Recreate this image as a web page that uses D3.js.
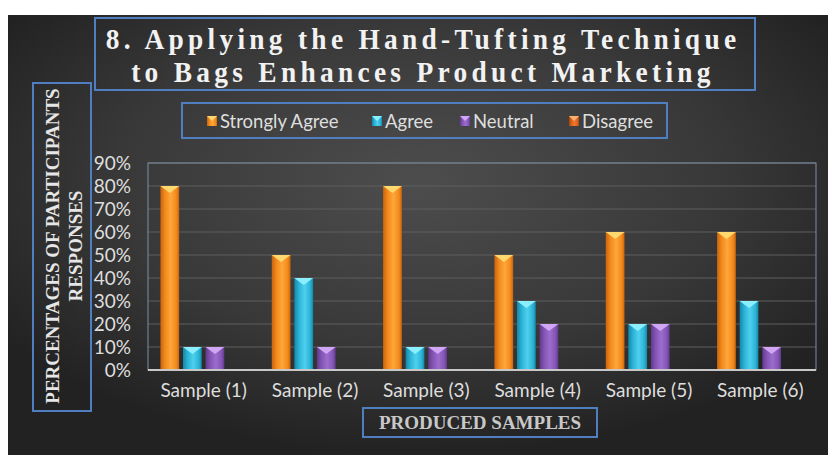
<!DOCTYPE html>
<html><head><meta charset="utf-8">
<script src="https://cdn.jsdelivr.net/npm/d3@7/dist/d3.min.js"></script>
<style>html,body{margin:0;padding:0;background:#fff;}svg{display:block;}</style>
</head><body><svg id="c" width="828" height="455"></svg>
<script>
const categories = ["Sample (1)","Sample (2)","Sample (3)","Sample (4)","Sample (5)","Sample (6)"];
const seriesNames = ["Strongly Agree","Agree","Neutral","Disagree"];
const stronglyAgree = [80,50,80,50,60,60];
const agree = [10,40,10,30,20,30];
const neutral = [10,10,10,20,20,10];
const disagree = [0,0,0,0,0,0];
const yTicks = [0,10,20,30,40,50,60,70,80,90];
const titleLines = ["8. Applying the Hand-Tufting Technique","to Bags Enhances Product Marketing"];
const yTitleLines = ["PERCENTAGES OF PARTICIPANTS","RESPONSES"];
const xTitle = "PRODUCED SAMPLES";

const seriesValues = [stronglyAgree, agree, neutral, disagree];
const colors = [
  {base:"#f28a1c", dark:"#c9640e", light:"#ffa63a", top:"#ffd870"},
  {base:"#2bb3d6", dark:"#1487a8", light:"#4fd0ee", top:"#8cefff"},
  {base:"#8455b5", dark:"#5f3a8c", light:"#9c6dcc", top:"#d0a6f5"},
  {base:"#d9621c", dark:"#a8440c", light:"#ef7a2e", top:"#ffb070"}
];
const labelFont = "Lato, 'Open Sans', sans-serif";
const serif = "'Liberation Serif', 'DejaVu Serif', serif";
const svg = d3.select("#c");
const defs = svg.append("defs");

// background
const bg = defs.append("radialGradient").attr("id","bg").attr("cx","0.5").attr("cy","0.38").attr("r","0.62");
bg.append("stop").attr("offset","0").attr("stop-color","#4d4d4d");
bg.append("stop").attr("offset","0.6").attr("stop-color","#383838");
bg.append("stop").attr("offset","1").attr("stop-color","#222222");
svg.append("rect").attr("x",0).attr("y",0).attr("width",828).attr("height",455).attr("fill","#fff");
svg.append("rect").attr("x",8).attr("y",15).attr("width",820).attr("height",440).attr("fill","url(#bg)");

// bar gradients
colors.forEach((c,i)=>{
  const g = defs.append("linearGradient").attr("id","bar"+i).attr("x1","0").attr("x2","1").attr("y1","0").attr("y2","0");
  g.append("stop").attr("offset","0").attr("stop-color",c.dark);
  g.append("stop").attr("offset","0.25").attr("stop-color",c.base);
  g.append("stop").attr("offset","0.55").attr("stop-color",c.light);
  g.append("stop").attr("offset","0.85").attr("stop-color",c.base);
  g.append("stop").attr("offset","1").attr("stop-color",c.dark);
});

// plot area
const plot = {left:148, right:816, top:163, bottom:370};
const x0 = d3.scaleBand().domain(categories).range([plot.left, plot.right]).paddingInner(0).paddingOuter(0);
const x1 = d3.scaleBand().domain(seriesNames).range([0, x0.bandwidth()]).paddingInner(0.17).paddingOuter(0.55);
const y = d3.scaleLinear().domain([0,90]).range([plot.bottom, plot.top]);

// gridlines
svg.append("g").selectAll("line").data(yTicks.filter(d=>d>0)).join("line")
  .attr("x1",plot.left).attr("x2",plot.right)
  .attr("y1",d=>y(d)).attr("y2",d=>y(d))
  .attr("stroke","#5f5f5f").attr("stroke-width",1);
// frame
svg.append("rect").attr("x",plot.left).attr("y",plot.top).attr("width",plot.right-plot.left).attr("height",plot.bottom-plot.top)
  .attr("fill","none").attr("stroke","#7d8ea8").attr("stroke-width",1);

// bars
const groups = svg.append("g").selectAll("g").data(categories).join("g")
  .attr("transform",d=>`translate(${x0(d)},0)`);
groups.each(function(cat,ci){
  const g = d3.select(this);
  seriesNames.forEach((s,si)=>{
    const v = seriesValues[si][ci];
    if(v<=0) return;
    const bx = x1(s), bw = x1.bandwidth(), by = y(v), bh = y(0)-y(v);
    g.append("rect").attr("x",bx).attr("y",by).attr("width",bw).attr("height",bh).attr("fill",`url(#bar${si})`);
    const th = Math.min(7,bh);
    g.append("path").attr("d",`M${bx},${by}L${bx+bw},${by}L${bx+bw/2},${by+th}Z`).attr("fill",colors[si].top);
  });
});

// x axis baseline
svg.append("line").attr("x1",plot.left).attr("x2",plot.right).attr("y1",y(0)).attr("y2",y(0))
  .attr("stroke","#c8c8c8").attr("stroke-width",2);

// y axis labels
const yAxis = d3.axisLeft(y).tickValues(yTicks).tickFormat(d=>d+"%").tickSize(0).tickPadding(0);
const ya = svg.append("g").attr("transform","translate(131,0)").call(yAxis);
ya.select(".domain").remove();
ya.selectAll("text").attr("fill","#dedede").attr("font-size",19).attr("font-family",labelFont);

// x axis labels
const xAxis = d3.axisBottom(x0).tickSize(0).tickPadding(0);
const xa = svg.append("g").attr("transform",`translate(0,383)`).call(xAxis);
xa.select(".domain").remove();
xa.selectAll("text").attr("fill","#dedede").attr("font-size",19).attr("font-family",labelFont);

// title box
svg.append("rect").attr("x",95).attr("y",18).attr("width",660).attr("height",72)
  .attr("fill","none").attr("stroke","#4f7fc0").attr("stroke-width",2);
svg.append("g").selectAll("text").data(titleLines).join("text")
  .attr("transform",(d,i)=>`translate(423,${49+i*33}) scale(0.93,1)`).attr("text-anchor","middle")
  .attr("font-family",serif).attr("font-weight","bold")
  .attr("font-size",29.5).attr("letter-spacing",4.6).attr("fill","#f2f2f2").text(d=>d);

// legend
svg.append("rect").attr("x",182).attr("y",103).attr("width",485).attr("height",35)
  .attr("fill","none").attr("stroke","#4f7fc0").attr("stroke-width",2);
const legendX = [207,372,460,569];
const lg = svg.append("g").selectAll("g").data(seriesNames).join("g")
  .attr("transform",(d,i)=>`translate(${legendX[i]},121)`);
lg.append("rect").attr("x",0).attr("y",-5).attr("width",10).attr("height",10).attr("fill",(d,i)=>`url(#bar${i})`);
lg.append("path").attr("d","M0,-5L10,-5L5,0Z").attr("fill",(d,i)=>colors[i].top);
lg.append("text").attr("x",13).attr("y",7).attr("fill","#dedede").attr("font-size",18.5).attr("font-family",labelFont).text(d=>d);

// y title box
svg.append("rect").attr("x",33).attr("y",83).attr("width",58).attr("height",328)
  .attr("fill","none").attr("stroke","#4f7fc0").attr("stroke-width",2);
svg.append("g").attr("transform","translate(64,246) rotate(-90)").selectAll("text").data(yTitleLines).join("text")
  .attr("x",0).attr("y",(d,i)=>-5+i*23).attr("text-anchor","middle")
  .attr("font-family",serif).attr("font-weight","bold")
  .attr("font-size",19).attr("fill","#e6e6e6").text(d=>d);

// x title box
svg.append("rect").attr("x",363).attr("y",408).attr("width",234).attr("height",29)
  .attr("fill","none").attr("stroke","#4f7fc0").attr("stroke-width",2);
svg.append("text").attr("x",480).attr("y",429).attr("text-anchor","middle")
  .attr("font-family",serif).attr("font-weight","bold")
  .attr("font-size",19).attr("fill","#c8c8c8").text(xTitle);
</script></body></html>
